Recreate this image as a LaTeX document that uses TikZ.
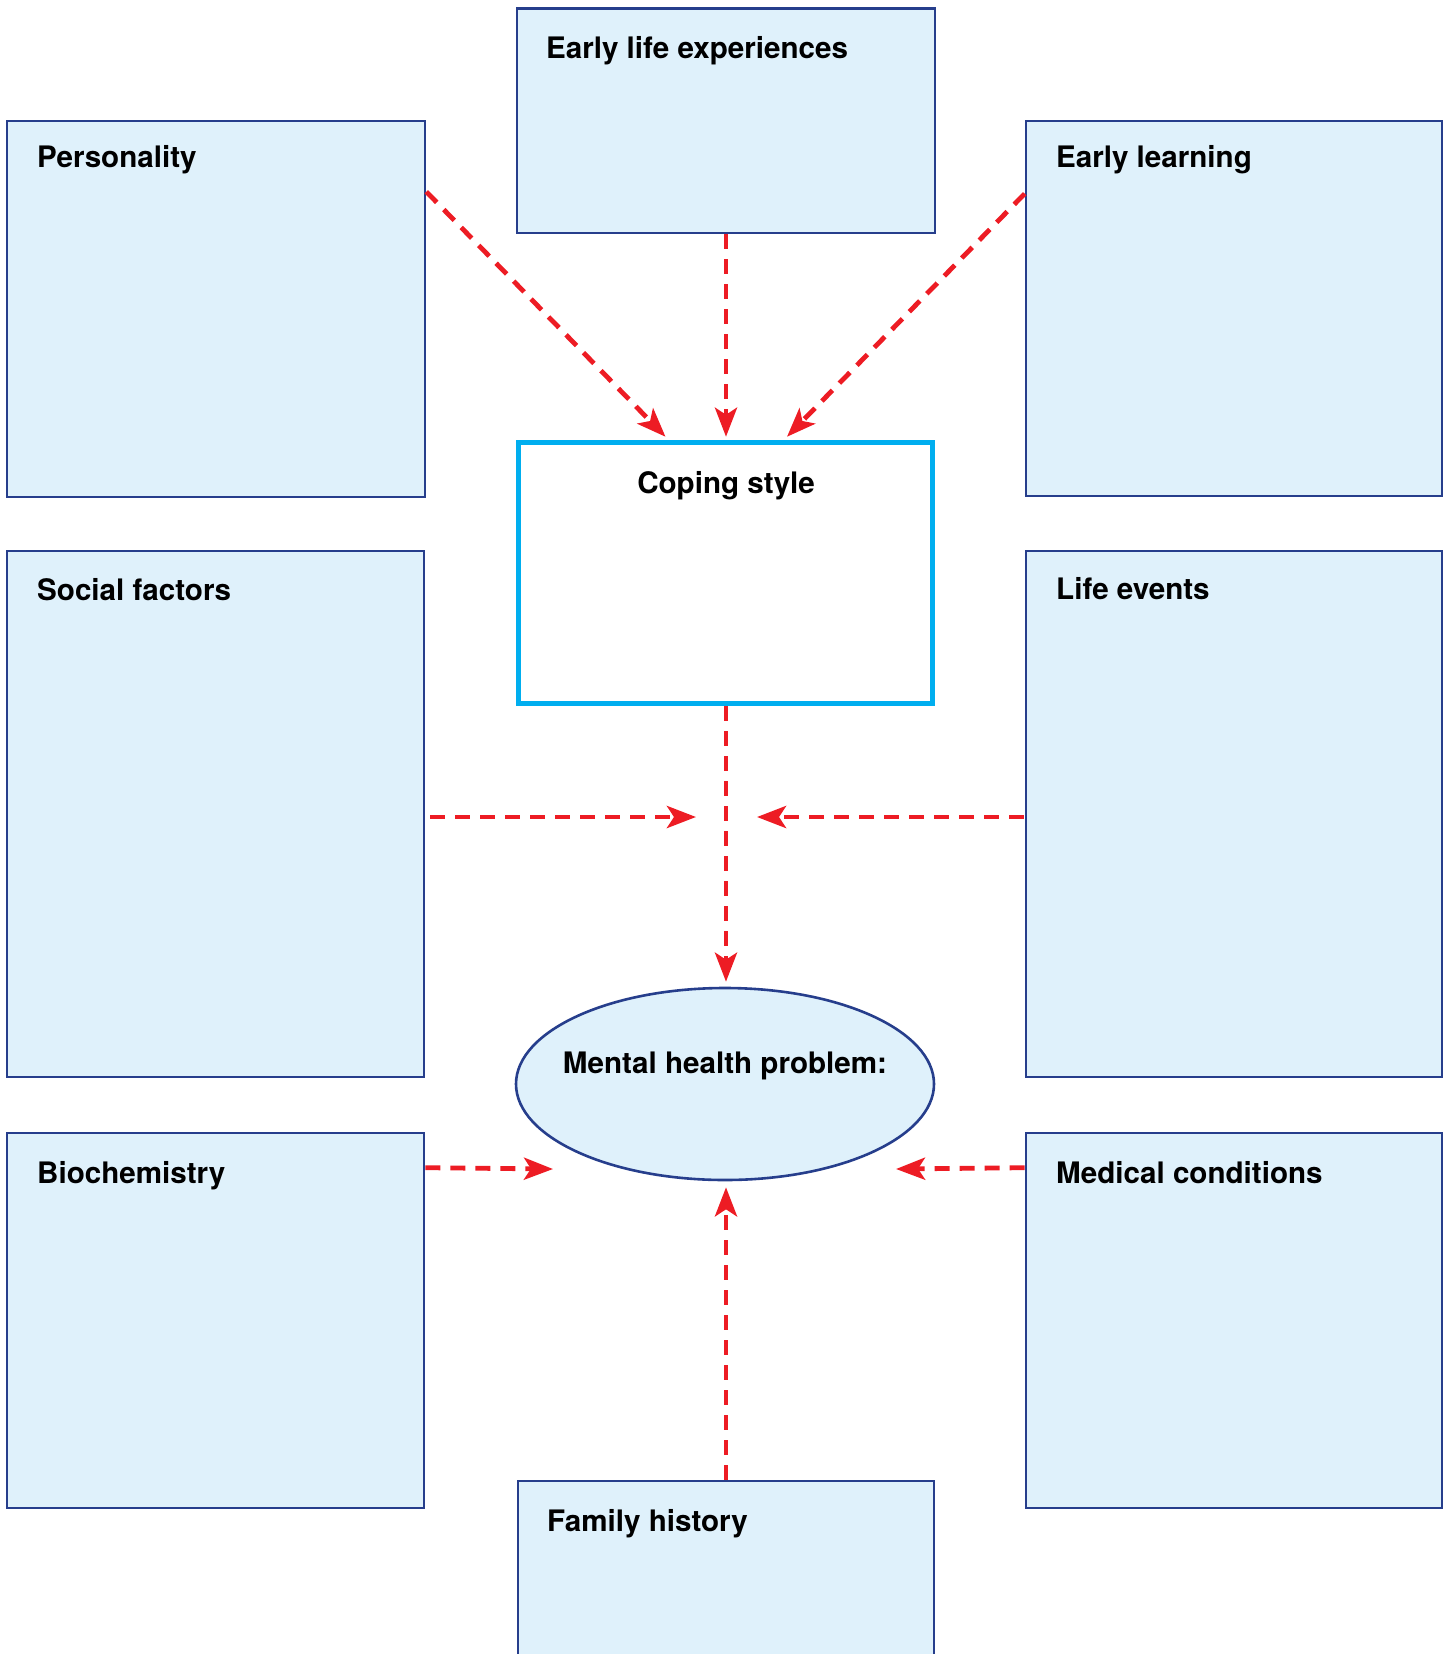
\documentclass[tikz,border=0pt]{standalone}
\usepackage{fontspec}
\setmainfont{TeX Gyre Heros}
\usetikzlibrary{shapes.geometric,arrows.meta,calc}
\definecolor{navy}{RGB}{38,62,140}
\definecolor{paleblue}{RGB}{223,241,251}
\definecolor{arrred}{RGB}{237,28,36}
\definecolor{cyanb}{RGB}{0,174,239}
\tikzset{
  box/.style={draw=navy, fill=paleblue, line width=2.6pt, rectangle, inner sep=0pt},
  copebox/.style={draw=cyanb, fill=white, line width=5pt, rectangle, inner sep=0pt},
  oval/.style={draw=navy, fill=paleblue, line width=2.6pt, ellipse, inner sep=0pt},
  lbl/.style={font=\fontsize{29.6}{34}\selectfont\bfseries, inner sep=0pt, text=black},
  arr/.style={draw=arrred, line width=4.8pt, dash pattern=on 15pt off 10pt,
    -{Stealth[length=29pt,width=22pt,inset=7pt]}}
}
\begin{document}
\begin{tikzpicture}[x=1pt,y=-1pt]
\useasboundingbox (0,0) rectangle (1451,1654);
\clip (0,0) rectangle (1451,1654);
% boxes
\node[box, minimum width=418pt, minimum height=376pt] (pers) at (216,309) {};
\node[box, minimum width=418pt, minimum height=224.5pt] (early) at (726,120.75) {};
\node[box, minimum width=416pt, minimum height=375pt] (learn) at (1234,308.5) {};
\node[copebox, minimum width=414pt, minimum height=261.5pt] (coping) at (725.5,573) {};
\node[box, minimum width=417pt, minimum height=526pt] (social) at (215.5,814) {};
\node[box, minimum width=416pt, minimum height=526pt] (life) at (1234,814) {};
\node[box, minimum width=417pt, minimum height=375pt] (bio) at (215.5,1320.5) {};
\node[box, minimum width=416pt, minimum height=375pt] (med) at (1234,1320.5) {};
\node[box, minimum width=416pt, minimum height=219pt] (family) at (726,1590.5) {};
\node[oval, minimum width=418pt, minimum height=192pt] (ment) at (725,1084) {};
% labels
\node[lbl, anchor=base west] (tpers) at (37,167) {Personality};
\node[lbl, anchor=base west] (tearly) at (546,59) {Early life experiences};
\node[lbl, anchor=base west] (tlearn) at (1056,167) {Early learning};
\node[lbl, anchor=base] (tcoping) at (726,493) {Coping style};
\node[lbl, anchor=base west] (tsocial) at (37,600) {Social factors};
\node[lbl, anchor=base west] (tlife) at (1056,599) {Life events};
\node[lbl, anchor=base] (tment) at (725,1073) {Mental health problem:};
\node[lbl, anchor=base west] (tbio) at (37,1183) {Biochemistry};
\node[lbl, anchor=base west] (tmed) at (1056,1183) {Medical conditions};
\node[lbl, anchor=base west] (tfamily) at (547,1531) {Family history};
% free ends
\coordinate (m1) at (696,817);
\coordinate (m2) at (757,817);
\coordinate (b1) at (553,1169);
\coordinate (b2) at (896,1169);
% connectors
\draw[arr] ($(pers.north east)+(0,72)$) -- ($(coping.north)+(-60,-3)$);
\draw[arr] (early.south) -- ($(coping.north)+(0.5,-3)$);
\draw[arr] ($(learn.north west)+(0,74)$) -- ($(coping.north)+(61.5,-3)$);
\draw[arr] ($(coping.south)+(0.5,0)$) -- ($(ment.north)+(1,-5)$);
\draw[arr] ($(social.east)+(5,3)$) -- (m1);
\draw[arr] ($(life.west)+(-1,3)$) -- (m2);
\draw[arr] ($(bio.north east)+(0,36)$) -- (b1);
\draw[arr] ($(med.north west)+(0,36)$) -- (b2);
\draw[arr] (family.north) -- ($(ment.south)+(1,6)$);
\end{tikzpicture}
\end{document}
